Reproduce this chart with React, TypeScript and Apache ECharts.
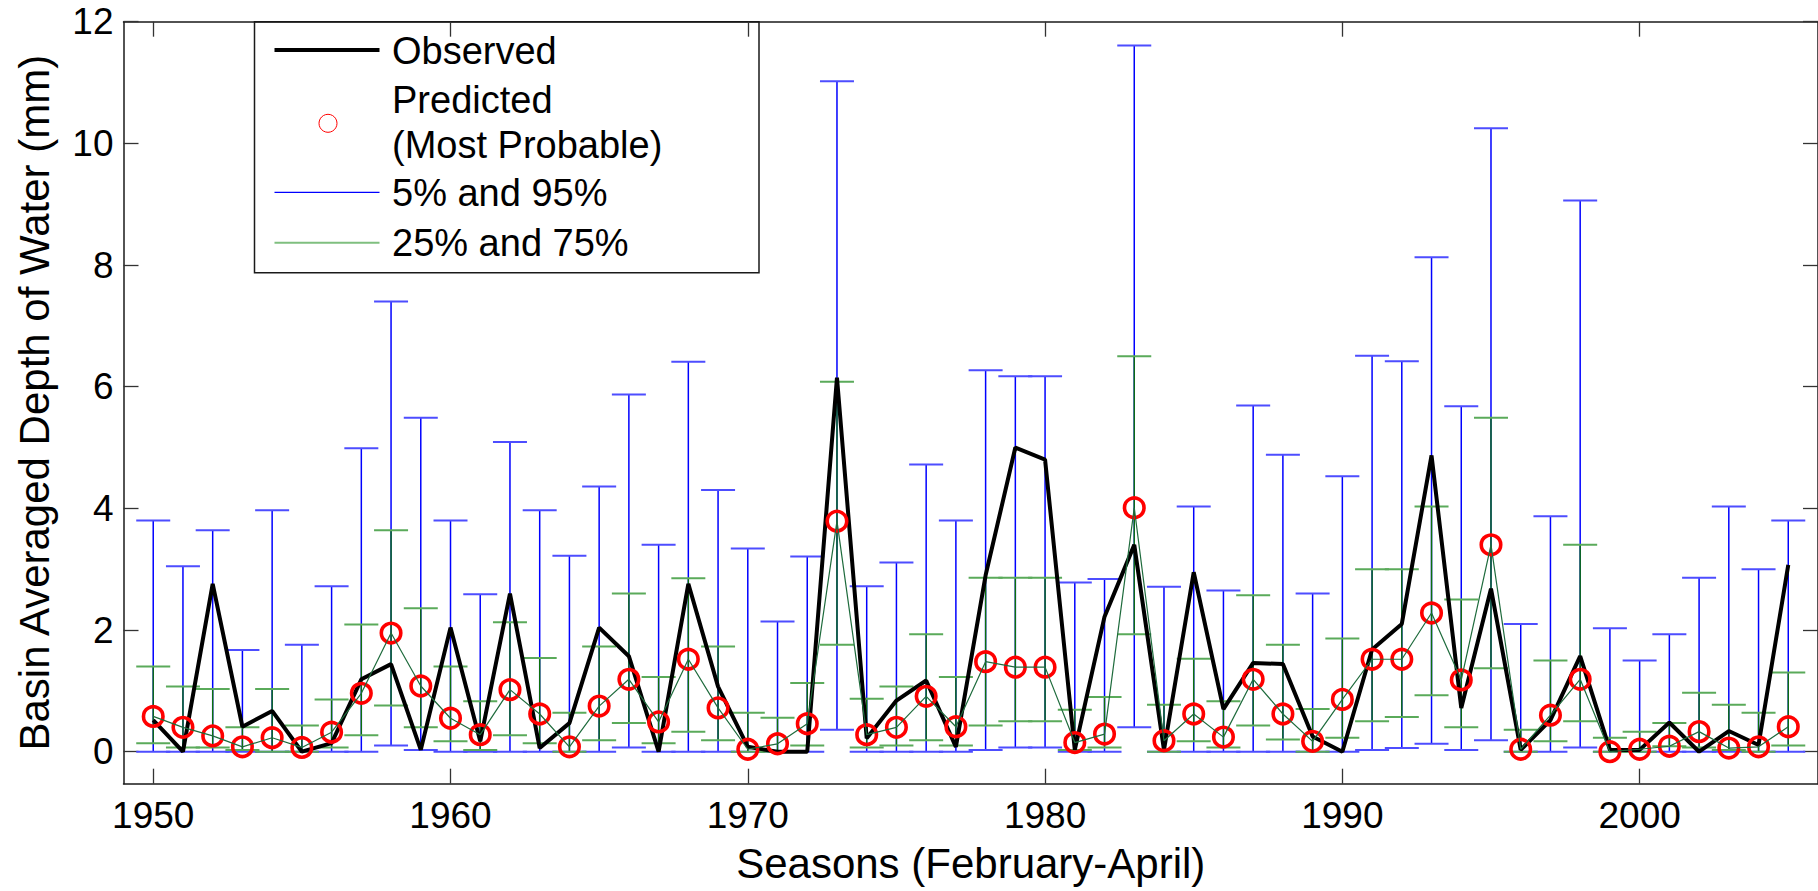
import React, { useEffect, useRef } from "react";
import * as echarts from "echarts";

const FONT = '"Liberation Sans", Arial, Helvetica, sans-serif';

const years = [
  1950, 1951, 1952, 1953, 1954, 1955, 1956, 1957, 1958, 1959,
  1960, 1961, 1962, 1963, 1964, 1965, 1966, 1967, 1968, 1969,
  1970, 1971, 1972, 1973, 1974, 1975, 1976, 1977, 1978, 1979,
  1980, 1981, 1982, 1983, 1984, 1985, 1986, 1987, 1988, 1989,
  1990, 1991, 1992, 1993, 1994, 1995, 1996, 1997, 1998, 1999,
  2000, 2001, 2002, 2003, 2004, 2005,
];

const observed = [
  0.52, 0.0, 2.76, 0.41, 0.67, 0.0, 0.14, 1.19, 1.44, 0.03,
  2.04, 0.17, 2.6, 0.06, 0.47, 2.04, 1.57, 0.0, 2.76, 1.07,
  0.08, 0.0, 0.0, 6.15, 0.22, 0.84, 1.17, 0.08, 2.9, 5.0,
  4.8, 0.03, 2.22, 3.4, 0.03, 2.95, 0.7, 1.46, 1.44, 0.25,
  0.0, 1.68, 2.1, 4.87, 0.72, 2.68, 0.03, 0.52, 1.57, 0.03,
  0.03, 0.48, 0.0, 0.34, 0.11, 3.07,
];

const predicted = [
  0.58, 0.4, 0.26, 0.08, 0.23, 0.07, 0.32, 0.96, 1.95, 1.08,
  0.55, 0.28, 1.02, 0.62, 0.08, 0.75, 1.19, 0.49, 1.52, 0.72,
  0.04, 0.13, 0.46, 3.79, 0.28, 0.4, 0.91, 0.41, 1.48, 1.39,
  1.39, 0.15, 0.29, 4.01, 0.18, 0.62, 0.24, 1.19, 0.62, 0.17,
  0.86, 1.52, 1.52, 2.28, 1.18, 3.4, 0.04, 0.6, 1.19, 0.0,
  0.04, 0.09, 0.33, 0.06, 0.08, 0.41,
];

const p5 = [
  0, 0, 0, 0, 0, 0, 0, 0, 0.1, 0.03,
  0, 0, 0, 0, 0, 0, 0.07, 0, 0, 0,
  0, 0, 0, 0.36, 0, 0, 0, 0, 0.03, 0.07,
  0.07, 0, 0, 0.4, 0, 0, 0, 0, 0, 0,
  0, 0.03, 0.06, 0.13, 0.03, 0.19, 0, 0, 0.07, 0,
  0, 0, 0, 0, 0, 0,
];

const p95 = [
  3.8, 3.05, 3.64, 1.67, 3.97, 1.76, 2.72, 4.99, 7.4, 5.49,
  3.8, 2.59, 5.09, 3.97, 3.22, 4.36, 5.87, 3.4, 6.41, 4.3,
  3.34, 2.14, 3.21, 11.02, 2.72, 3.11, 4.72, 3.8, 6.27, 6.17,
  6.17, 2.78, 2.84, 11.61, 2.71, 4.03, 2.65, 5.69, 4.88, 2.6,
  4.53, 6.51, 6.42, 8.13, 5.68, 10.25, 2.1, 3.87, 9.06, 2.03,
  1.5, 1.93, 2.86, 4.03, 3.0, 3.8,
];

const p25 = [
  0.14, 0.07, 0.07, 0.03, 0.0, 0.0, 0.07, 0.27, 0.76, 0.4,
  0.17, 0.03, 0.27, 0.14, 0.0, 0.19, 0.47, 0.14, 0.33, 0.19,
  0.0, 0.0, 0.1, 1.76, 0.07, 0.1, 0.19, 0.1, 0.43, 0.5,
  0.5, 0.03, 0.07, 1.93, 0.0, 0.17, 0.07, 0.43, 0.2, 0.0,
  0.23, 0.5, 0.57, 0.93, 0.4, 1.37, 0.0, 0.17, 0.5, 0.0,
  0.0, 0.09, 0.07, 0.03, 0.0, 0.1,
];

const p75 = [
  1.4, 1.07, 1.03, 0.4, 1.03, 0.43, 0.86, 2.09, 3.64, 2.36,
  1.4, 0.83, 2.13, 1.54, 0.64, 1.73, 2.6, 1.23, 2.85, 1.73,
  0.64, 0.56, 1.13, 6.08, 0.87, 1.07, 1.93, 1.23, 2.86, 2.86,
  2.86, 0.69, 0.9, 6.5, 0.77, 1.53, 0.83, 2.57, 1.76, 0.7,
  1.86, 3.0, 3.0, 4.03, 2.5, 5.49, 0.36, 1.5, 3.4, 0.23,
  0.33, 0.47, 0.97, 0.77, 0.64, 1.3,
];

const xTicks = [1950, 1960, 1970, 1980, 1990, 2000];
const yTicks = [0, 2, 4, 6, 8, 10, 12];

const legendLabels = ["Observed", "Predicted", "(Most Probable)", "5% and 95%", "25% and 75%"];

function makeErrorBar(stem: string, cap: string, stemWidth: number, capWidth: number) {
  return (params: any, api: any) => {
    const x = api.value(0);
    const lo = api.value(1);
    const hi = api.value(2);
    const a = api.coord([x, hi]);
    const b = api.coord([x, lo]);
    const hw = 17;
    return {
      type: "group",
      children: [
        { type: "line", shape: { x1: a[0], y1: a[1], x2: b[0], y2: b[1] }, style: { stroke: stem, lineWidth: stemWidth } },
        { type: "line", shape: { x1: a[0] - hw, y1: a[1], x2: a[0] + hw, y2: a[1] }, style: { stroke: cap, lineWidth: capWidth } },
        { type: "line", shape: { x1: b[0] - hw, y1: b[1], x2: b[0] + hw, y2: b[1] }, style: { stroke: cap, lineWidth: capWidth } },
      ],
    };
  };
}

export default function App() {
  const ref = useRef<HTMLDivElement>(null);

  useEffect(() => {
    if (!ref.current) return;
    const chart = echarts.init(ref.current, undefined, { renderer: "svg" });

    const axisLine = { show: true, onZero: false, lineStyle: { color: "#1a1a1a", width: 1.5 } };
    const tickStyle = { color: "#333", width: 1.3 };

    const option: any = {
      animation: false,
      backgroundColor: "#ffffff",
      grid: { left: 123.5, top: 21.7, width: 1698.6, height: 762, containLabel: false },
      xAxis: [
        {
          type: "value",
          min: 1949,
          max: 2006,
          position: "bottom",
          axisLine,
          axisTick: { show: true, inside: true, length: 15, customValues: xTicks, lineStyle: tickStyle },
          axisLabel: {
            show: true,
            customValues: xTicks,
            margin: 13,
            fontSize: 37,
            color: "#000",
            fontFamily: FONT,
            formatter: (v: number) => String(v),
          },
          splitLine: { show: false },
          name: "Seasons (February-April)",
          nameLocation: "middle",
          nameGap: 59,
          nameTextStyle: { fontSize: 42, color: "#000", fontFamily: FONT },
        },
        {
          type: "value",
          min: 1949,
          max: 2006,
          position: "top",
          axisLine,
          axisTick: { show: true, inside: true, length: 15, customValues: xTicks, lineStyle: tickStyle },
          axisLabel: { show: false },
          splitLine: { show: false },
        },
      ],
      yAxis: [
        {
          type: "value",
          min: -0.526,
          max: 12,
          position: "left",
          axisLine,
          axisTick: { show: true, inside: true, length: 15, customValues: yTicks, lineStyle: tickStyle },
          axisLabel: {
            show: true,
            customValues: yTicks,
            margin: 10,
            fontSize: 37,
            color: "#000",
            fontFamily: FONT,
            formatter: (v: number) => String(v),
          },
          splitLine: { show: false },
          name: "Basin Averaged Depth of Water (mm)",
          nameLocation: "middle",
          nameGap: 68,
          nameTextStyle: { fontSize: 42, color: "#000", fontFamily: FONT },
        },
        {
          type: "value",
          min: -0.526,
          max: 12,
          position: "right",
          axisLine,
          axisTick: { show: true, inside: true, length: 15, customValues: yTicks, lineStyle: tickStyle },
          axisLabel: { show: false },
          splitLine: { show: false },
        },
      ],
      series: [
        {
          name: "5% and 95%",
          type: "custom",
          xAxisIndex: 0,
          yAxisIndex: 0,
          renderItem: makeErrorBar("#0000ff", "#4d4dff", 1.5, 2),
          data: years.map((y, i) => [y, p5[i], p95[i]]),
          encode: { x: 0, y: [1, 2] },
          z: 1,
        },
        {
          name: "25% and 75%",
          type: "custom",
          xAxisIndex: 0,
          yAxisIndex: 0,
          renderItem: makeErrorBar("#0b700b", "#5aaa5a", 1.4, 2),
          data: years.map((y, i) => [y, p25[i], p75[i]]),
          encode: { x: 0, y: [1, 2] },
          z: 2,
        },
        {
          name: "Observed",
          type: "line",
          data: years.map((y, i) => [y, observed[i]]),
          showSymbol: false,
          symbol: "none",
          lineStyle: { color: "#000", width: 4 },
          z: 4,
        },
        {
          name: "Predicted",
          type: "scatter",
          data: years.map((y, i) => [y, predicted[i]]),
          symbol: "circle",
          symbolSize: 19.5,
          itemStyle: { color: "rgba(0,0,0,0)", borderColor: "#ff0000", borderWidth: 3.6, opacity: 1 },
          z: 5,
        },
        {
          name: "Predicted link",
          type: "line",
          data: years.map((y, i) => [y, predicted[i]]),
          showSymbol: false,
          symbol: "none",
          lineStyle: { color: "#1e6b3c", width: 1.2 },
          z: 6,
        },
      ],
      graphic: [
        {
          type: "group",
          z: 100,
          children: [
            { type: "rect", shape: { x: 254.5, y: 21.7, width: 504.5, height: 251 }, style: { fill: "#fff", stroke: "#1a1a1a", lineWidth: 1.5 } },
            { type: "line", shape: { x1: 274.5, y1: 50, x2: 379.5, y2: 50 }, style: { stroke: "#000", lineWidth: 4 } },
            { type: "text", x: 392, y: 50.7, style: { text: legendLabels[0], font: `38px ${FONT}`, fill: "#000", verticalAlign: "middle", align: "left" } },
            { type: "circle", shape: { cx: 328, cy: 123.3, r: 9 }, style: { fill: "none", stroke: "#ff0000", lineWidth: 1 } },
            { type: "text", x: 392, y: 99.7, style: { text: legendLabels[1], font: `38px ${FONT}`, fill: "#000", verticalAlign: "middle", align: "left" } },
            { type: "text", x: 392, y: 144.7, style: { text: legendLabels[2], font: `38px ${FONT}`, fill: "#000", verticalAlign: "middle", align: "left" } },
            { type: "line", shape: { x1: 274.5, y1: 192.3, x2: 379.5, y2: 192.3 }, style: { stroke: "#0000ff", lineWidth: 1.2 } },
            { type: "text", x: 392, y: 193.4, style: { text: legendLabels[3], font: `38px ${FONT}`, fill: "#000", verticalAlign: "middle", align: "left" } },
            { type: "line", shape: { x1: 274.5, y1: 242.7, x2: 379.5, y2: 242.7 }, style: { stroke: "#7fbf7f", lineWidth: 2 } },
            { type: "text", x: 392, y: 243.4, style: { text: legendLabels[4], font: `38px ${FONT}`, fill: "#000", verticalAlign: "middle", align: "left" } },
          ],
        },
      ],
    };

    chart.setOption(option);
    return () => {
      chart.dispose();
    };
  }, []);

  return (
    <div
      ref={ref}
      style={{ position: "absolute", left: 0, top: 0, width: 1818, height: 891, background: "#fff", overflow: "hidden" }}
    />
  );
}
